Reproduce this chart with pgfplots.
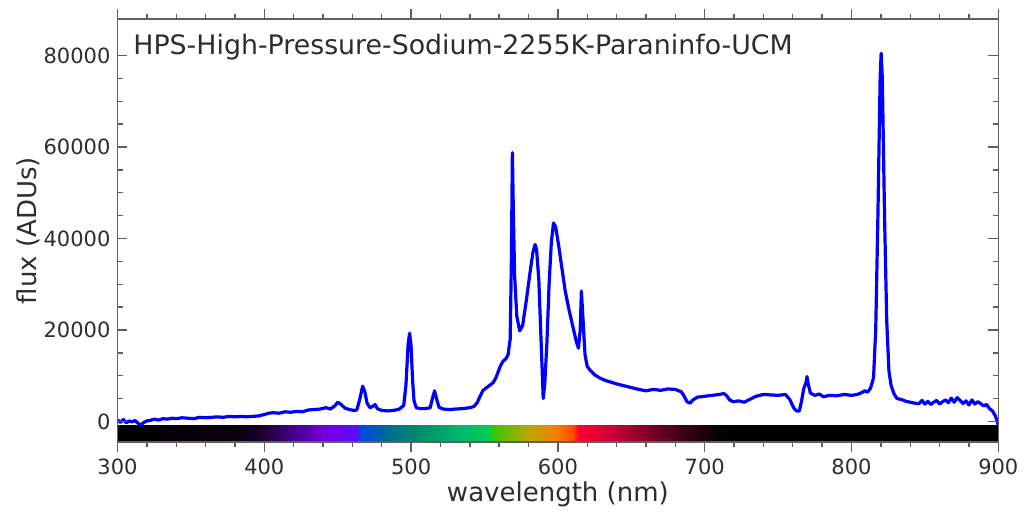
\documentclass[border=0pt]{standalone}
\usepackage{fontspec}
\setmainfont{DejaVu Sans}
\usepackage{pgfplots}
\pgfplotsset{compat=1.18}

\definecolor{axgray}{RGB}{95,95,95}
\definecolor{txtgray}{RGB}{45,45,45}
\definecolor{specblue}{RGB}{0,0,255}

\definecolor{s300}{RGB}{0,0,0}
\definecolor{s380}{RGB}{8,0,12}
\definecolor{s400}{RGB}{30,0,50}
\definecolor{s420}{RGB}{70,0,140}
\definecolor{s440}{RGB}{115,0,215}
\definecolor{s463}{RGB}{95,10,250}
\definecolor{s465}{RGB}{0,70,225}
\definecolor{s485}{RGB}{0,110,140}
\definecolor{s505}{RGB}{0,140,105}
\definecolor{s530}{RGB}{0,180,110}
\definecolor{s552}{RGB}{0,205,85}
\definecolor{s558}{RGB}{70,195,0}
\definecolor{s580}{RGB}{190,165,0}
\definecolor{s598}{RGB}{240,130,0}
\definecolor{s610}{RGB}{255,75,0}
\definecolor{s614}{RGB}{255,0,45}
\definecolor{s635}{RGB}{205,0,60}
\definecolor{s660}{RGB}{130,0,40}
\definecolor{s685}{RGB}{60,0,20}
\definecolor{s705}{RGB}{15,0,5}
\definecolor{s720}{RGB}{0,0,0}

\newcommand{\seg}[4]{\addplot[draw=none, left color=#3, right color=#4, forget plot] coordinates {(#1,-4500) (#2,-4500) (#2,-900) (#1,-900)} -- cycle;}

\begin{document}
\begin{tikzpicture}
\begin{axis}[
  scale only axis,
  width=440.4pt, height=211.5pt,
  xmin=300, xmax=900, ymin=-4500, ymax=88000,
  xtick={300,400,...,900}, minor x tick num=4,
  ytick={0,20000,40000,60000,80000}, minor y tick num=3,
  xtick align=outside, ytick align=inside,
  major tick length=5pt, minor tick length=2.6pt,
  every tick/.style={axgray, line width=0.7pt},
  axis line style={axgray, line width=0.8pt},
  axis on top,
  scaled y ticks=false,
  /pgf/number format/1000 sep={},
  /pgf/number format/assume math mode=true,
  tick label style={font=\fontsize{10.5}{12}\selectfont, text=txtgray},
  xlabel={wavelength (nm)},
  ylabel={flux (ADUs)},
  label style={font=\fontsize{13}{15}\selectfont, text=txtgray},
  xlabel style={at={(axis description cs:0.5,-0.1418)}, anchor=base},
  ylabel style={at={(axis description cs:-0.092,0.5)}, anchor=base},
]
% spectrum colour bar
\seg{300}{380.5}{s300}{s380}
\seg{380}{400.5}{s380}{s400}
\seg{400}{420.5}{s400}{s420}
\seg{420}{440.5}{s420}{s440}
\seg{440}{463.3}{s440}{s463}
\seg{463}{465.3}{s463}{s465}
\seg{465}{485.5}{s465}{s485}
\seg{485}{505.5}{s485}{s505}
\seg{505}{530.5}{s505}{s530}
\seg{530}{552.5}{s530}{s552}
\seg{552}{558.5}{s552}{s558}
\seg{558}{580.5}{s558}{s580}
\seg{580}{598.5}{s580}{s598}
\seg{598}{610.3}{s598}{s610}
\seg{610}{614.3}{s610}{s614}
\seg{614}{635.5}{s614}{s635}
\seg{635}{660.5}{s635}{s660}
\seg{660}{685.5}{s660}{s685}
\seg{685}{705.5}{s685}{s705}
\seg{705}{720.5}{s705}{s720}
\seg{720}{900}{s720}{s720}

% spectrum
\addplot[specblue, line width=1.6pt, line join=round] table {
x y
300 300
302 -200
304 400
306 -300
308 100
310 -100
312 200
314 -400
316 -800
318 -200
320 100
322 200
325 500
328 300
331 600
334 500
337 700
340 600
344 800
348 700
352 600
356 900
360 800
364 900
368 1000
372 900
376 1100
380 1000
384 1100
388 1000
392 1100
396 1200
400 1500
403 1800
406 1900
410 1800
414 2100
418 2000
422 2200
426 2100
430 2500
434 2600
438 2700
442 3000
445 2700
448 3400
450 4200
452 3800
455 2900
458 2600
461 2400
463 2500
465 4800
467 7700
468.5 6500
470 4000
472 3000
474 3300
475.5 3700
477 2800
480 2400
484 2300
488 2400
492 2700
495 3500
496.5 8000
498 17000
499 19300
500 16500
501 9000
502 4500
503.5 3000
506 2800
510 2800
513 3000
514.5 5000
516 6700
517.5 4800
519 3100
522 2700
526 2600
530 2700
535 2800
540 3000
543 3300
545 4100
547 5500
549 6800
551.5 7400
554 8000
556 8500
558 9700
560.5 11900
562.5 13100
564.5 13700
566 14500
567.5 18000
568.3 35000
569 58800
569.7 45000
570.5 32000
572 23000
574 19800
576 21000
578.5 26500
581 32500
583 37000
584.5 38700
585.5 37500
587 31000
588.5 18000
590 5000
591 8000
592.5 17000
594 30000
595.5 39000
597 43400
598.5 42500
600.5 38500
602.5 34000
605 28500
607.5 24500
610 21000
612.5 17500
614 16000
615.2 20000
616 28500
617 23000
618.5 14500
620 12000
622.5 11000
625 10200
628.5 9500
632 9000
636 8600
640 8200
645 7800
650 7400
655 7000
660 6700
665 7000
670 6800
675 7100
680 7000
684 6500
686 5500
688 4300
690 4000
692 4700
695 5300
700 5500
705 5700
710 5900
713 6100
715 5600
717 4700
719.5 4300
723 4500
727 4200
730 4700
735 5500
740 5900
745 5800
750 5700
755 5900
758 4800
760.5 3000
762.5 2300
764.5 2300
766 4500
767.5 7200
769 8500
769.7 9800
770.5 8200
772 6200
775 5700
778 6000
781 5400
785 5700
790 5600
795 5900
800 5700
804 5900
807 6300
809 6700
811 6400
813 7300
815 9500
816.5 20000
818 45000
819.5 75000
820.2 80500
821 75000
822.5 45000
824 22000
825.5 11000
827 7800
829 6000
831 5000
834 4800
837 4400
840 4200
843 4000
846 3900
848 4600
850 3800
852 4400
854 3700
856 4200
858 4600
860 3800
862 4300
864 4700
866 4100
868 5100
870 4200
872 5200
874 4600
876 3900
878 4500
880 3600
882 4700
884 3800
886 4300
888 3900
890 3400
892 3700
894 2800
896 2300
898 1200
899 300
900 -800
};

\node[anchor=base west, inner sep=0pt, font=\fontsize{13.4}{16}\selectfont, text=txtgray] at (rel axis cs:0.0176,0.915) {HPS-High-Pressure-Sodium-2255K-Paraninfo-UCM};
\end{axis}
\pgfresetboundingbox
\useasboundingbox (-58.75pt,-36.5pt) rectangle (452.75pt,221pt);
\end{tikzpicture}
\end{document}
